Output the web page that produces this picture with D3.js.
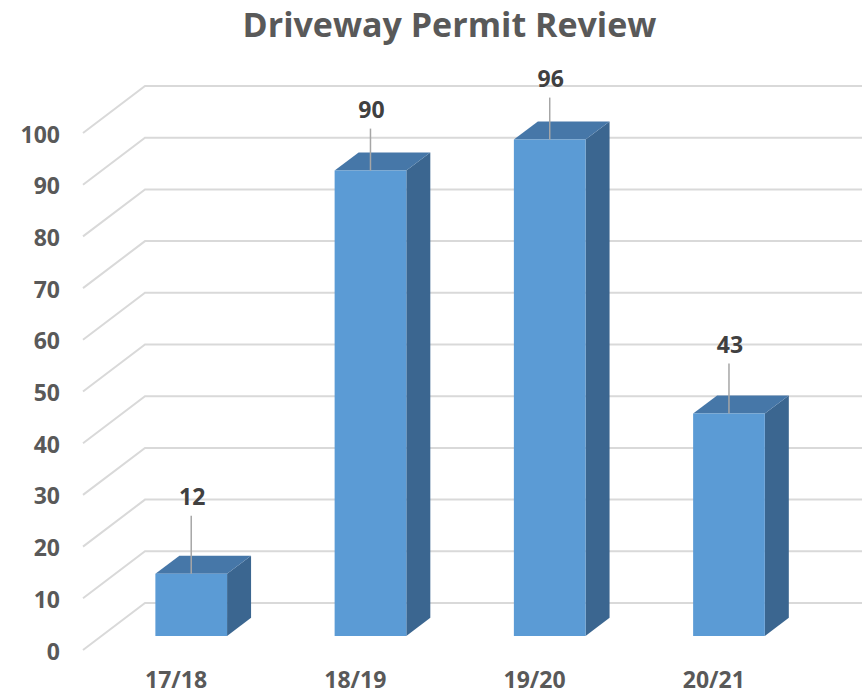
<!DOCTYPE html>
<html>
<head>
<meta charset="utf-8">
<script src="https://cdn.jsdelivr.net/npm/d3@7/dist/d3.min.js"></script>
<style>
  html, body { margin: 0; padding: 0; background: #ffffff; }
  svg { display: block; }
</style>
</head>
<body>
<div id="chart"></div>
<script>
// ---- Data ----
const title = "Driveway Permit Review";
const categories = ["17/18", "18/19", "19/20", "20/21"];
const values = [12, 90, 96, 43];
const yTicks = [0, 10, 20, 30, 40, 50, 60, 70, 80, 90, 100];

// ---- Layout ----
const W = 862, H = 694;
const backLeft = 145, backRight = 862;
const depthDX = -62, depthDY = 47;          // back wall -> front edge of floor
const barFront = 0.7, barBack = 0.313;      // depth fractions of bar faces
const labelLift = [69, 53, 53, 61];         // hand-placed data label offsets (px above bar top)

const font = "'Open Sans', 'DejaVu Sans', sans-serif";

const svg = d3.select("#chart").append("svg")
  .attr("width", W).attr("height", H);

const y = d3.scaleLinear().domain([0, 100]).range([603, 86]);
const x = d3.scaleBand().domain(categories).range([backLeft, backRight])
  .paddingInner(0.6).paddingOuter(0.3);

const px = (xb, f) => xb + f * depthDX;
const py = (yb, f) => yb + f * depthDY;

// ---- Gridlines (back wall + side wall) ----
const grid = svg.append("g").attr("stroke", "#d9d9d9").attr("stroke-width", 2).attr("fill", "none");
yTicks.forEach(t => {
  grid.append("path").attr("d",
    `M${px(backLeft, 1)},${py(y(t), 1)} L${backLeft},${y(t)} L${backRight},${y(t)}`);
});

// ---- Y axis labels ----
svg.append("g").selectAll("text").data(yTicks).join("text")
  .attr("x", 60)
  .attr("y", d => py(y(d), 1) + 9.5)
  .attr("text-anchor", "end")
  .attr("font-family", font).attr("font-weight", 700).attr("font-size", 23)
  .attr("fill", "#595959")
  .text(d => d);

// ---- Bars ----
const bars = svg.append("g");
categories.forEach((c, i) => {
  const v = values[i];
  const xl = x(c), xr = x(c) + x.bandwidth();
  const yt = y(v), y0 = y(0);
  const P = (xx, yy, f) => `${px(xx, f)},${py(yy, f)}`;
  // right side
  bars.append("polygon")
    .attr("points", [P(xr, y0, barFront), P(xr, y0, barBack), P(xr, yt, barBack), P(xr, yt, barFront)].join(" "))
    .attr("fill", "#3b6690");
  // top
  bars.append("polygon")
    .attr("points", [P(xl, yt, barFront), P(xr, yt, barFront), P(xr, yt, barBack), P(xl, yt, barBack)].join(" "))
    .attr("fill", "#4677a8");
  // front
  bars.append("polygon")
    .attr("points", [P(xl, y0, barFront), P(xr, y0, barFront), P(xr, yt, barFront), P(xl, yt, barFront)].join(" "))
    .attr("fill", "#5b9bd5");

  // data label + leader line
  const cx = px(xl + x.bandwidth() / 2, barFront);
  const topY = py(yt, barFront);
  const base = topY - labelLift[i];
  svg.append("line")
    .attr("x1", cx).attr("x2", cx)
    .attr("y1", base + 11).attr("y2", topY)
    .attr("stroke", "#a6a6a6").attr("stroke-width", 1.5);
  svg.append("text")
    .attr("x", cx + 1).attr("y", base)
    .attr("text-anchor", "middle")
    .attr("font-family", font).attr("font-weight", 700).attr("font-size", 23)
    .attr("fill", "#404040")
    .text(v);
});

// ---- Category labels ----
svg.append("g").selectAll("text").data(categories).join("text")
  .attr("x", d => px(x(d) + x.bandwidth() / 2, 1) + 3.5)
  .attr("y", 688)
  .attr("text-anchor", "middle")
  .attr("font-family", font).attr("font-weight", 700).attr("font-size", 23)
  .attr("fill", "#595959")
  .text(d => d);

// ---- Title ----
svg.append("text")
  .attr("x", 449.5).attr("y", 37)
  .attr("text-anchor", "middle")
  .attr("font-family", font).attr("font-weight", 700).attr("font-size", 34)
  .attr("fill", "#595959")
  .text(title);
</script>
</body>
</html>
